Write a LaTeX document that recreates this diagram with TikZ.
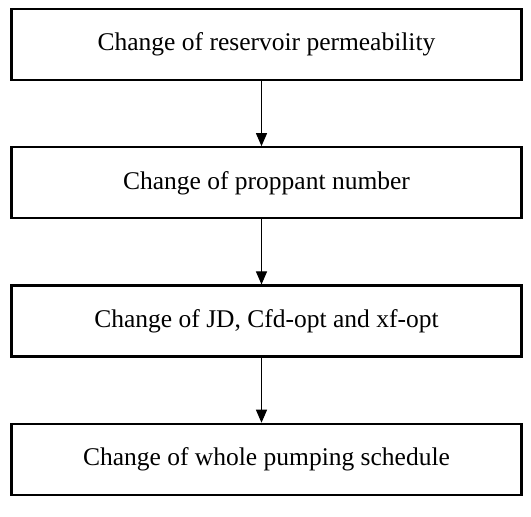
\documentclass[tikz,border=0pt]{standalone}
\usepackage{fontspec}
\setmainfont{Liberation Serif}
\usetikzlibrary{arrows.meta,positioning}

\begin{document}
\begin{tikzpicture}[x=1pt,y=1pt,node distance=65pt,
  stagebox/.style={draw,line width=2.3pt,minimum width=510pt,minimum height=71pt,inner sep=0pt,font=\fontsize{25.5}{30}\selectfont},
  flowarrow/.style={-{Triangle[length=13pt,width=11pt]},line width=1.1pt}]
\useasboundingbox (0,0) rectangle (531,517);
\node[stagebox] (perm) at (266.5,472.5) {Change of reservoir permeability};
\node[stagebox,below=of perm] (prop) {Change of proppant number};
\node[stagebox,below=of prop] (jd) {Change of JD, Cfd-opt and xf-opt};
\node[stagebox,below=of jd] (sched) {Change of whole pumping schedule};
\draw[flowarrow] ([xshift=-5pt]perm.south) -- ([xshift=-5pt]prop.north);
\draw[flowarrow] ([xshift=-5pt]prop.south) -- ([xshift=-5pt]jd.north);
\draw[flowarrow] ([xshift=-5pt]jd.south) -- ([xshift=-5pt]sched.north);
\end{tikzpicture}
\end{document}
